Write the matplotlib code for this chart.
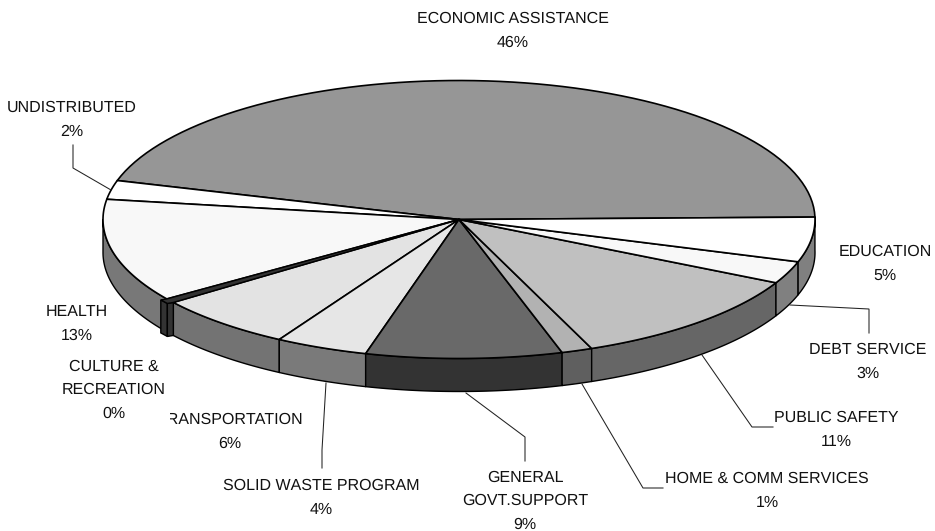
import matplotlib
matplotlib.use("Agg")
import matplotlib.pyplot as plt
import numpy as np

plt.rcParams['font.family'] = ['Liberation Sans', 'DejaVu Sans']
plt.rcParams['text.hinting'] = 'no_hinting'
plt.rcParams['text.hinting_factor'] = 1

# slice shares as measured on the picture (labels below are the printed ones)
names = ['ECONOMIC ASSISTANCE', 'UNDISTRIBUTED', 'HEALTH', 'CULTURE &\nRECREATION',
         'TRANSPORTATION', 'SOLID WASTE PROGRAM', 'GENERAL\nGOVT.SUPPORT',
         'HOME & COMM SERVICES', 'PUBLIC SAFETY', 'DEBT SERVICE', 'EDUCATION']
shares = [45.2, 2.2, 12.0, 0.5, 6.4, 4.2, 8.9, 1.4, 11.4, 2.6, 5.2]
printed = ['46%', '2%', '13%', '0%', '6%', '4%', '9%', '1%', '11%', '3%', '5%']

top_colors = ['#969696', '#ffffff', '#f8f8f8', '#333333', '#e3e3e3', '#e6e6e6',
              '#696969', '#b2b2b2', '#c0c0c0', '#f8f8f8', '#ffffff']
side_colors = ['#969696', '#ffffff', '#787878', '#333333', '#737373', '#7a7a7a',
               '#333333', '#5f5f5f', '#666666', '#808080', '#808080']

label_x = [513, 72, 77, 114, 230, 321, 525, 767, 836, 868, 885]
label_y = [31, 120, 323.5, 390, 432, 498, 501, 490.5, 429.5, 362, 264]

leaders = {
    'UNDISTRIBUTED': [(73, 145), (73, 168), (111, 190)],
    'DEBT SERVICE': [(790, 305), (869, 309), (869, 333)],
    'PUBLIC SAFETY': [(702, 355), (752, 427), (773, 427)],
    'HOME & COMM SERVICES': [(582, 384), (643, 488), (663, 488)],
    'GENERAL\nGOVT.SUPPORT': [(466, 393), (525, 437), (525, 461)],
    'SOLID WASTE PROGRAM': [(326, 383), (322, 450), (322, 468)],
}

cx, cy = 459, 219.5
rx, ry = 356, 139
depth = 33
start_angle = 1.0
notch = (-6, 1)  # little step the thin culture slice makes on the rim
font_size = 11.3
line_gap = 1.75


def rim(t):
    t = np.radians(t)
    return cx + rx * np.cos(t), cy - ry * np.sin(t)


def draw_side(t0, t1, color):
    # outer wall of a slice, only the part on the front half shows
    t0 = max(t0, 180)
    if t1 <= t0:
        return
    t = np.linspace(t0, t1, 60)
    x, y = rim(t)
    ax.fill(np.r_[x, x[::-1]], np.r_[y, y[::-1] + depth], facecolor=color,
            edgecolor='black', linewidth=1.0, joinstyle='round')


def draw_top(t0, t1, color):
    t = np.linspace(t0, t1, 80)
    x, y = rim(t)
    ax.fill(np.r_[cx, x], np.r_[cy, y], facecolor=color, edgecolor='black',
            linewidth=1.2, joinstyle='round')


def draw_culture(t0, t1, color):
    x0, y0 = rim(t0)
    x1, y1 = rim(t1)
    ax0, ay0 = x0 + notch[0], y0 + notch[1]
    ax1, ay1 = x1 + notch[0], y1 + notch[1]
    # two faces below the stepped end
    for a, b in [((ax0, ay0), (ax1, ay1)), ((ax1, ay1), (x1, y1))]:
        ax.fill([a[0], b[0], b[0], a[0]], [a[1], b[1], b[1] + depth, a[1] + depth],
                facecolor=color, edgecolor='black', linewidth=1.0)
    ax.fill([cx, x0, ax0, ax1, x1], [cy, y0, ay0, ay1, y1], facecolor=color,
            edgecolor='black', linewidth=1.0)


fig = plt.figure(figsize=(9.35, 5.31), dpi=100)
ax = fig.add_axes([0, 0, 1, 1])
ax.set_xlim(0, 935)
ax.set_ylim(531, 0)
ax.axis('off')

edges = start_angle + np.r_[0, np.cumsum(shares)] * 3.6

for i, name in enumerate(names):
    if name.startswith('CULTURE'):
        continue
    draw_side(edges[i], edges[i + 1], side_colors[i])
for i, name in enumerate(names):
    if name.startswith('CULTURE'):
        continue
    draw_top(edges[i], edges[i + 1], top_colors[i])
i = names.index('CULTURE &\nRECREATION')
draw_culture(edges[i], edges[i + 1], top_colors[i])

for pts in leaders.values():
    xs, ys = zip(*pts)
    ax.plot(xs, ys, color='#222222', lw=0.75, solid_joinstyle='miter')

for i, name in enumerate(names):
    if name.startswith('CULTURE'):
        continue
    ax.text(label_x[i], label_y[i], name + '\n' + printed[i], ha='center', va='center',
            fontsize=font_size, color='#111111', linespacing=line_gap)

# the culture label sits last, its white box cuts the T of TRANSPORTATION
i = names.index('CULTURE &\nRECREATION')
ax.text(label_x[i], label_y[i], names[i] + '\n' + printed[i], ha='center', va='center',
        fontsize=font_size, color='#111111', linespacing=line_gap,
        bbox=dict(facecolor='white', edgecolor='none', pad=2.6))

fig.savefig('out.png', dpi=100)
